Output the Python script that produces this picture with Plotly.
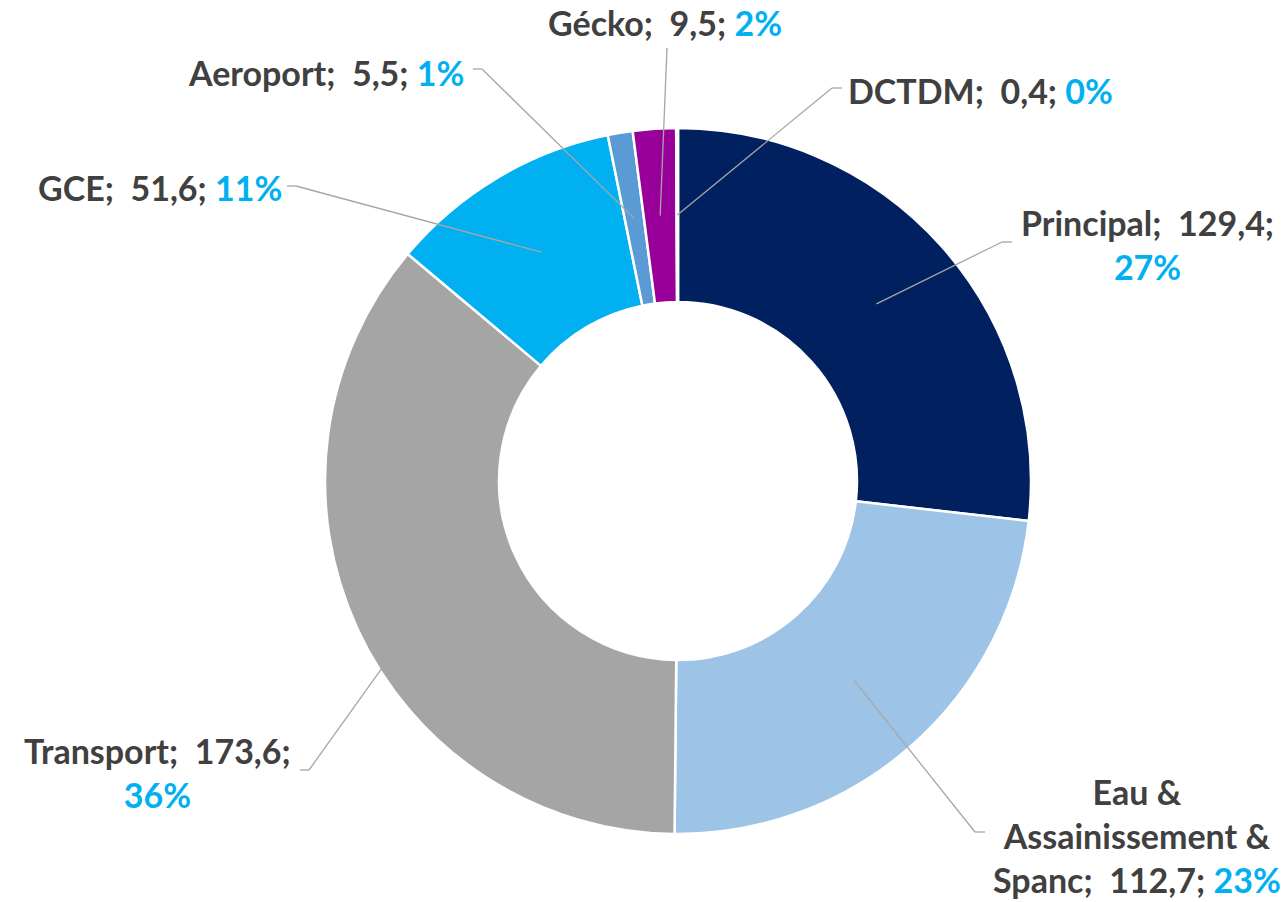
import math
import plotly.graph_objects as go

# ---- data ----
labels = ["Principal", "Eau & Assainissement & Spanc", "Transport", "GCE", "Aeroport", "Gécko", "DCTDM"]
label_text = ["Principal;  129,4;<br>{p}",
              "Eau &<br>Assainissement &<br>Spanc;  112,7; {p}",
              "Transport;  173,6;<br>{p}",
              "GCE;  51,6; {p}",
              "Aeroport;  5,5; {p}",
              "Gécko;  9,5; {p}",
              "DCTDM;  0,4; {p}"]
values = [129.4, 112.7, 173.6, 51.6, 5.5, 9.5, 0.4]
colors = ["#002060", "#9DC3E6", "#A5A5A5", "#00B0F0", "#5B9BD5", "#990099", "#264478"]

# ---- layout (pixels in window; page body has an 8px margin) ----
OFF = 8
W, H = 1288 - OFF, 902 - OFF
CX, CY, R = 678, 481, 353
HOLE = 0.507
# label block centres and leader-line elbow points (window pixels)
label_pos = [(1147, 244), (1137, 835), (157, 772), (160, 188), (326, 73), (665, 22), (980, 90)]
elbows = [[(1002, 242), (1012, 242)],
          [(975, 832), (985, 832)],
          [(309, 770), (300, 770)],
          [(296, 186), (287, 186)],
          [(482, 69), (473, 69)],
          [(667, 48)],
          [(832, 88), (842, 88)]]

TXT = "#404040"
PCT = "#00B0F0"


def px(x):
    return (x - OFF) / W


def py(y):
    return 1 - (y - OFF) / H


fig = go.Figure(go.Pie(
    labels=labels, values=values, sort=False, direction="clockwise", rotation=0,
    hole=HOLE, textinfo="none", hoverinfo="label+value+percent",
    marker=dict(colors=colors, line=dict(color="white", width=2.5)),
    domain=dict(x=[px(CX - R), px(CX + R)], y=[py(CY + R), py(CY - R)]),
    showlegend=False,
))

total = sum(values)
cum = 0.0
annotations, shapes = [], []
rmid = R * (1 + HOLE) / 2
for i, v in enumerate(values):
    mid = (cum + v / 2) / total * 2 * math.pi
    cum += v
    pct = round(v / total * 100)
    ax, ay = CX + rmid * math.sin(mid), CY - rmid * math.cos(mid)
    pts = [(ax, ay)] + elbows[i]
    for (x0, y0), (x1, y1) in zip(pts[:-1], pts[1:]):
        shapes.append(dict(type="line", xref="paper", yref="paper",
                           x0=px(x0), y0=py(y0), x1=px(x1), y1=py(y1),
                           line=dict(color="#A6A6A6", width=1.3)))
    txt = label_text[i].format(p=f"<span style='color:{PCT}'>{pct}%</span>")
    lx, ly = label_pos[i]
    annotations.append(dict(x=px(lx), y=py(ly), xref="paper", yref="paper",
                            text=f"<b>{txt}</b>", showarrow=False, align="center",
                            xanchor="center", yanchor="middle",
                            font=dict(family="Lato", size=34, color=TXT)))

fig.update_layout(width=W, height=H, margin=dict(l=0, r=0, t=0, b=0),
                  paper_bgcolor="white", plot_bgcolor="white",
                  annotations=annotations, shapes=shapes)
fig.write_html("out.html")
